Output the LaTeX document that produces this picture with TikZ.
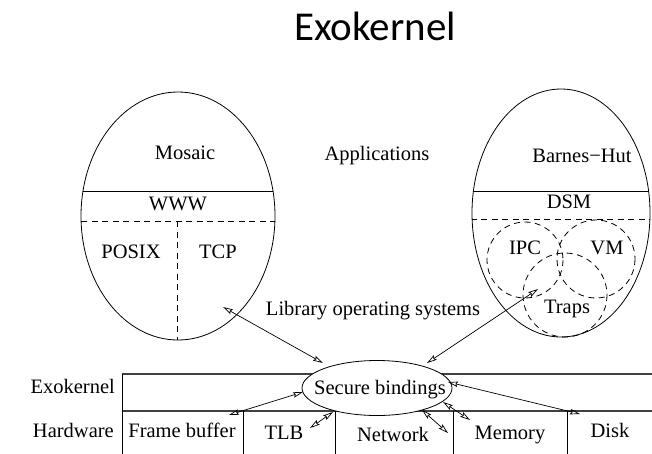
\documentclass[tikz,border=0pt]{standalone}
\usepackage{fontspec}
\setmainfont{Liberation Serif}
\newfontfamily\titlefont{Carlito}
\usetikzlibrary{shapes.geometric,arrows.meta}

\begin{document}
\begin{tikzpicture}[x=1pt,y=-1pt,
  lbl/.style={anchor=base,inner sep=0pt,font=\fontsize{20.5}{24}\selectfont},
  frame/.style={line width=0.8pt},
  rule/.style={line width=1.3pt,black!75},
  dsh/.style={line width=0.8pt,dash pattern=on 6pt off 4.5pt},
  link/.style={line width=0.7pt,{Stealth[open,length=10pt,width=5.5pt,inset=1.5pt]}-{Stealth[open,length=10pt,width=5.5pt,inset=1.5pt]}},
  oval/.style={ellipse,draw,line width=0.8pt,inner sep=0pt}]
\useasboundingbox (0,0) rectangle (652,453);
\clip (0,0) rectangle (652,453);

% title
\node[anchor=base,inner sep=0pt,font=\titlefont\fontsize{41}{47}\selectfont] (title) at (375,40) {Exokernel};

% left library OS
\node[oval,minimum width=194pt,minimum height=248pt] (libL) at (178,216) {};
\begin{scope}
  \clip (178,216) ellipse [x radius=97,y radius=124];
  \draw[frame] (60,191) -- (300,191);
  \draw[dsh] (60,221) -- (300,221);
  \draw[dsh] (177,221) -- (177,345);
\end{scope}
\node[lbl] (mosaic) at (185,159) {Mosaic};
\node[lbl] (www) at (178,210) {WWW};
\node[lbl] (posix) at (131,258) {POSIX};
\node[lbl] (tcp) at (218,258) {TCP};

% right library OS
\node[oval,minimum width=178pt,minimum height=248pt] (libR) at (561,213) {};
\begin{scope}
  \clip (561,213) ellipse [x radius=89,y radius=124];
  \draw[frame] (460,191) -- (660,191);
  \draw[dsh] (460,219) -- (660,219);
\end{scope}
\draw[dsh] (525,260) circle [radius=38];
\draw[dsh] (596,259) circle [radius=39];
\draw[dsh] (565,295) circle [radius=42];
\node[lbl] (barnes) at (582,162) {Barnes−Hut};
\node[lbl] (dsm) at (569,208) {DSM};
\node[lbl] (ipc) at (525,254) {IPC};
\node[lbl] (vm) at (607,254) {VM};
\node[lbl] (traps) at (567,313) {Traps};

% middle labels
\node[lbl] (apps) at (377,160) {Applications};
\node[lbl] (libos) at (373,315) {Library operating systems};

% exokernel and hardware rows
\draw[rule] (122,374) -- (660,374);
\draw[rule] (122,411) -- (660,411);
\draw[frame] (122,374) -- (122,460);
\foreach \xx in {243,335,453,567} \draw[frame] (\xx,411) -- (\xx,460);
\node[lbl,anchor=base east] (exo) at (115,393) {Exokernel};
\node[lbl,anchor=base east] (hw) at (114,437) {Hardware};
\node[lbl] (fb) at (182,437) {Frame buffer};
\node[lbl] (tlb) at (284,439) {TLB};
\node[lbl] (net) at (393,441) {Network};
\node[lbl] (mem) at (510,439) {Memory};
\node[lbl] (disk) at (610,437) {Disk};

% secure bindings
\node[oval,fill=white,minimum width=150pt,minimum height=55pt] (sb) at (377,388) {};
\node[lbl] (sbtext) at (380,394) {Secure bindings};

% binding end points
\coordinate (pL) at (223,307);
\coordinate (pR) at (538,289);
\coordinate (sbL) at (323,363);
\coordinate (sbR) at (427,363);
\coordinate (fbEnd) at (229,415);
\coordinate (sbFb) at (303,392);
\coordinate (tlbEnd) at (310,428);
\coordinate (sbTlb) at (333,412);
\coordinate (netEnd) at (448,433);
\coordinate (sbNet) at (422,410);
\coordinate (memEnd) at (470,420);
\coordinate (sbMem) at (443,402);
\coordinate (diskEnd) at (580,414);
\coordinate (sbDisk) at (448,382);

\draw[link] (pL) -- (sbL);
\draw[link] (pR) -- (sbR);
\draw[link] (sbFb) -- (fbEnd);
\draw[link] (sbTlb) -- (tlbEnd);
\draw[link] (sbNet) -- (netEnd);
\draw[link] (sbMem) -- (memEnd);
\draw[link] (sbDisk) -- (diskEnd);
\end{tikzpicture}
\end{document}
